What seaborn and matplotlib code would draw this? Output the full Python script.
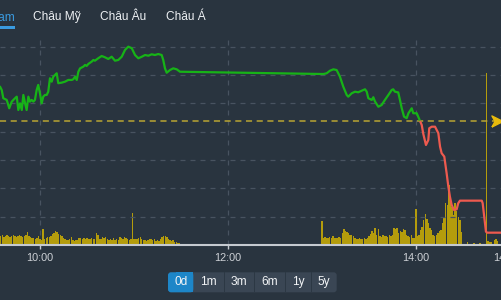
import numpy as np
import pandas as pd
import matplotlib
matplotlib.use("Agg")
import matplotlib.pyplot as plt
import seaborn as sns
from matplotlib.patches import Rectangle, FancyBboxPatch
from matplotlib.transforms import IdentityTransform

# ---------------- data ----------------
tabs = ["Việt Nam", "Châu Mỹ", "Châu Âu", "Châu Á"]
ranges = ["0d", "1m", "3m", "6m", "1y", "5y"]
tick_minutes = [600, 720, 840]
tick_labels = ["10:00", "12:00", "14:00"]
last_tick_minute = 885
last_tick_label = "14:45"
reference_price = 1000.72

price_minute = [574.5, 575.6, 576.6, 578.8, 580.4, 582.0, 584.1, 585.2, 586.2, 587.3,
                588.4, 589.4, 590.5, 591.5, 592.6, 593.6, 594.7, 595.8, 596.8, 597.9,
                598.9, 600.0, 601.1, 602.1, 603.2, 604.3, 605.3, 606.4, 607.5, 608.5,
                609.6, 610.7, 611.7, 613.9, 616.0, 618.1, 620.3, 621.3, 622.4, 623.5,
                624.5, 625.6, 627.7, 628.8, 629.8, 630.9, 633.0, 634.1, 635.1, 637.2,
                639.4, 641.5, 643.6, 645.8, 647.9, 650.0, 652.2, 654.3, 656.4, 658.6,
                660.7, 662.8, 665.0, 667.1, 669.2, 671.3, 673.4, 675.5, 677.7, 678.7,
                679.8, 680.9, 683.0, 685.1, 687.3, 689.4,
                780.0, 781.0, 783.0, 785.1, 787.3, 789.4, 791.5, 793.6, 795.8, 796.8,
                799.0, 801.1, 803.2, 806.4, 807.5, 808.6, 809.6, 811.8, 812.8, 813.9,
                816.0, 818.1, 820.2, 822.4, 824.5, 825.5, 826.6, 828.7, 829.8, 830.9,
                832.4, 834.1, 835.2, 837.3, 838.3, 840.5, 842.6, 843.7, 844.7, 846.4,
                847.9, 848.5, 850.1, 852.2, 854.3, 855.4, 856.4, 858.1, 859.6, 860.7,
                861.7, 862.8, 864.3, 866.0, 867.0, 868.1, 882.0, 882.6, 884.7, 885.5,
                894.3]
price_value = [1003.18, 1002.94, 1002.36, 1002.24, 1001.65, 1002.12, 1002.36, 1002.47, 1001.53, 1002.00,
               1001.53, 1002.59, 1002.00, 1001.53, 1002.47, 1002.12, 1002.24, 1002.12, 1002.24, 1002.94,
               1003.30, 1002.71, 1002.00, 1002.47, 1002.59, 1002.59, 1002.82, 1003.77, 1003.53, 1003.88,
               1004.00, 1004.12, 1003.42, 1003.46, 1003.53, 1003.65, 1003.65, 1003.70, 1003.88, 1003.65,
               1004.23, 1004.47, 1004.59, 1004.71, 1004.64, 1004.78, 1004.94, 1005.06, 1005.01, 1005.18,
               1005.34, 1005.25, 1005.13, 1005.29, 1005.01, 1005.06, 1005.29, 1005.77, 1006.00, 1005.89,
               1005.41, 1005.18, 1005.29, 1005.41, 1005.36, 1005.46, 1005.41, 1005.48, 1005.41, 1005.06,
               1004.47, 1004.16, 1004.35, 1004.47, 1004.40, 1004.23,
               1004.07, 1004.07, 1004.12, 1004.30, 1004.40, 1004.35, 1003.88, 1003.18, 1002.59, 1002.47,
               1002.71, 1002.82, 1002.78, 1002.94, 1002.99, 1002.82, 1002.36, 1002.24, 1002.43, 1002.12,
               1001.76, 1001.88, 1002.24, 1002.59, 1002.94, 1002.99, 1002.82, 1002.77, 1002.24, 1001.67,
               1001.06, 1000.95, 1001.30, 1001.65, 1001.30, 1001.30, 1000.76, 1000.47, 999.84, 999.06,
               999.41, 1000.24, 1000.35, 1000.35, 999.89, 998.94, 998.48, 998.24, 997.06, 996.12,
               995.41, 994.83, 994.47, 994.52, 994.95, 995.13, 995.13, 994.95, 992.94, 992.87,
               992.87]

vol_morning_start = 575   # 09:35
vol_morning = [9, 10, 8, 9, 10, 9, 8, 9, 10, 9, 8, 9, 10, 9, 8, 9, 10,
               13,
               9, 8, 7, 7, 6, 7,
               9,
               6, 5,
               16,
               6, 7, 8,
               8, 9, 11, 12,
               14,
               13, 11, 10,
               9, 7,
               6, 5, 5, 6,
               8,
               5, 4, 5, 5,
               7, 7, 6, 7,
               6, 7, 6, 6, 7, 6, 6,
               12, 10, 6, 6,
               8, 7, 8, 6, 5,
               6, 5, 7, 5, 6, 5,
               8, 7, 6, 8, 7,
               6, 5, 6,
               32,
               6, 6, 6, 7,
               8, 6, 5,
               5, 4, 5, 6,
               6, 5, 6,
               4, 5, 4, 6,
               8, 9, 9, 8,
               6, 5, 4, 5,
               3, 3, 2, 2]
vol_afternoon_start = 780  # 13:00
vol_afternoon = [24,
                 7, 8, 7, 7, 8, 7, 9,
                 7, 7, 7, 8, 7,
                 12, 16, 14, 13, 12, 10, 10, 9,
                 7, 6, 6, 7, 6, 6, 7, 6, 7,
                 9, 11, 14, 12, 17, 10, 16, 9,
                 8, 10, 9, 9, 8, 10, 9,
                 10, 17, 16, 17, 12, 14, 13, 16, 15, 10,
                 9, 8, 10, 7, 7,
                 36,
                 9, 10, 15, 18, 25, 31, 26, 22, 17, 15,
                 10, 9, 10, 12, 14, 15, 22, 28, 42, 40,
                 60, 46, 38, 30, 42, 34, 28, 25, 13,
                 0, 0, 0, 3, 0, 0, 0, 2, 0, 0, 0, 2, 0, 0, 0,
                 172,
                 4, 3, 3, 0, 5, 6, 4, 0]

# ---------------- style ----------------
BG = "#29343f"
GRID = "#485360"
GREEN = "#17b317"
RED = "#ee5a4f"
BAR = "#b49c0c"
REF = "#b9a533"
ARROW = "#e8bb0c"
AXIS = "#c5cad0"
BLUE = "#3a9be0"
BTN = "#3a4654"
BTN_SEL = "#1d86c8"

sns.set_theme(style="dark", rc={"axes.facecolor": BG, "figure.facecolor": BG,
                                "savefig.facecolor": BG})
plt.rcParams["font.family"] = ["Liberation Sans", "DejaVu Sans"]

W, H = 501, 300
fig = plt.figure(figsize=(W / 100, H / 100), dpi=100, facecolor=BG)
ax_vol = fig.add_axes([0, 55 / H, 1, 205 / H])
ax_vol.set_facecolor(BG)
ax_price = ax_vol.twinx()
ax_price.patch.set_visible(False)

# volume bars
vol_minute = list(range(vol_morning_start, vol_morning_start + len(vol_morning))) + \
             list(range(vol_afternoon_start, vol_afternoon_start + len(vol_afternoon)))
vol_values = vol_morning + vol_afternoon
vol_df = pd.DataFrame({"minute": vol_minute, "volume": vol_values})
sns.barplot(data=vol_df, x="minute", y="volume", native_scale=True, width=0.9,
            color=BAR, saturation=1, linewidth=0, errorbar=None, ax=ax_vol)

# price line split at the reference price
pm = np.array(price_minute, dtype=float)
pv = np.array(price_value, dtype=float)
idx = int(np.argmax(pv < reference_price))
t_cross = pm[idx - 1] + (pm[idx] - pm[idx - 1]) * (pv[idx - 1] - reference_price) / (pv[idx - 1] - pv[idx])
green_df = pd.DataFrame({"t": np.append(pm[:idx], t_cross), "p": np.append(pv[:idx], reference_price)})
red_df = pd.DataFrame({"t": np.insert(pm[idx:], 0, t_cross), "p": np.insert(pv[idx:], 0, reference_price)})

xmin, xmax = 574.5, 894.3
ax_price.axhline(reference_price, color=REF, lw=1.1, ls=(0, (4, 3)), zorder=1)
sns.lineplot(data=green_df, x="t", y="p", color=GREEN, lw=1.6, sort=False, estimator=None, ax=ax_price, zorder=3)
sns.lineplot(data=red_df, x="t", y="p", color=RED, lw=1.6, sort=False, estimator=None, ax=ax_price, zorder=3)
arrow_marker = [(-1, -1), (1, 0), (-1, 1), (-0.45, 0), (-1, -1)]
ax_price.plot([xmax - 2.6], [reference_price], marker=arrow_marker, ms=8, color=ARROW,
              ls="none", zorder=4, clip_on=False)

# axes limits, grid, ticks
ax_vol.set_xlim(xmin, xmax)
ax_vol.set_ylim(0, 205)
ax_price.set_ylim(992.0, 1006.47)
ax_price.set_yticks(np.arange(994, 1007, 2))
ax_price.grid(axis="y", color=GRID, lw=0.9, ls=(0, (4, 4)))
ax_price.grid(axis="x", visible=False)
ax_vol.set_xticks(tick_minutes)
ax_vol.set_xticklabels(tick_labels)
ax_vol.grid(axis="x", color=GRID, lw=0.9, ls=(0, (4, 4)))
ax_vol.grid(axis="y", visible=False)
ax_vol.tick_params(axis="x", colors=AXIS, labelcolor="#cdd1d6", labelsize=7.8,
                   length=3, width=1, pad=3, bottom=True, direction="out")
ax_vol.tick_params(axis="y", left=False, labelleft=False)
ax_price.tick_params(axis="y", right=False, labelright=False, left=False, labelleft=False)
for a in (ax_vol, ax_price):
    a.set_xlabel("")
    a.set_ylabel("")
    for s in a.spines.values():
        s.set_visible(False)
ax_vol.spines["bottom"].set_visible(True)
ax_vol.spines["bottom"].set_color(AXIS)
ax_vol.spines["bottom"].set_linewidth(1.5)
ax_vol.annotate(last_tick_label, xy=(last_tick_minute, 0), xycoords=("data", "axes fraction"),
                xytext=(4.6, -6.0), textcoords="offset points", ha="left", va="top",
                color="#cdd1d6", fontsize=7.8, annotation_clip=False)

# top tabs
tab_x = [15, 33, 100, 166]
for i, (name, x) in enumerate(zip(tabs, tab_x)):
    fig.text(x / W, 1 - 20 / H, name, ha="right" if i == 0 else "left", va="baseline",
             color=BLUE if i == 0 else "#eef1f4", fontsize=8.6)
fig.add_artist(Rectangle((-60, H - 28.5), 75, 2.2, transform=IdentityTransform(),
                         color=BLUE, lw=0))

# range buttons
edges = [168, 193.3, 224, 254.3, 285, 311, 336.7]
by0, bh = H - 292.3, 20
fig.add_artist(FancyBboxPatch((edges[0], by0), edges[-1] - edges[0], bh,
                              boxstyle="round,pad=0,rounding_size=3", transform=IdentityTransform(),
                              color=BTN, lw=0))
fig.add_artist(FancyBboxPatch((edges[0], by0), edges[1] - edges[0], bh,
                              boxstyle="round,pad=0,rounding_size=3", transform=IdentityTransform(),
                              color=BTN_SEL, lw=0))
fig.add_artist(Rectangle((edges[0] + 8, by0), edges[1] - edges[0] - 8, bh,
                         transform=IdentityTransform(), color=BTN_SEL, lw=0))
for e in edges[2:-1]:
    fig.add_artist(Rectangle((e - 0.5, by0), 1, bh, transform=IdentityTransform(),
                             color="#2c3844", lw=0))
for i, lab in enumerate(ranges):
    cx = (edges[i] + edges[i + 1]) / 2
    fig.text(cx / W, (by0 + bh / 2) / H, lab, ha="center", va="center",
             color="#f2f4f6", fontsize=8.6)

fig.savefig("out.png", dpi=100, facecolor=BG)
